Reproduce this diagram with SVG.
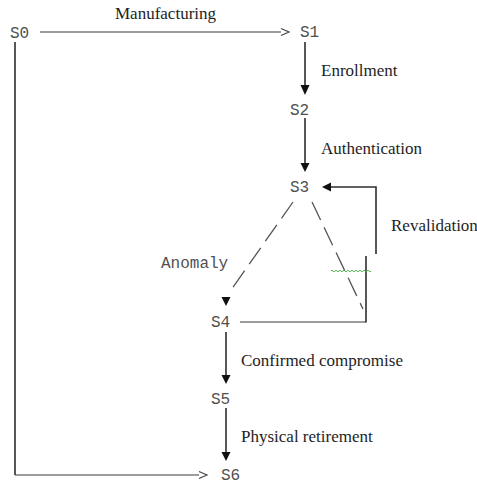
<svg xmlns="http://www.w3.org/2000/svg" width="477" height="484" viewBox="0 0 477 484">
  <style>
    .state { font-family: "Liberation Mono", "Courier New", monospace; font-size: 16px; fill: #505050; }
    .label { font-family: "Liberation Serif", "Times New Roman", serif; font-size: 17px; fill: #1e1e1e; }
    .wire { fill: none; stroke: #2e2e2e; stroke-width: 1.6; }
    .rule { fill: none; stroke: #3a3a3a; stroke-width: 1.1; }
    .dash { fill: none; stroke: #555; stroke-width: 1.3; stroke-dasharray: 20 8; }
    .head { fill: #111; }
    .chev { fill: none; stroke: #444; stroke-width: 1.2; }
  </style>

  <rect width="477" height="484" fill="#ffffff"/>

  <!-- states -->
  <g id="S0"><text class="state" x="10" y="38">S0</text></g>
  <g id="S1"><text class="state" x="300" y="37">S1</text></g>
  <g id="S2"><text class="state" x="290" y="115">S2</text></g>
  <g id="S3"><text class="state" x="290" y="192">S3</text></g>
  <g id="S4"><text class="state" x="211" y="327">S4</text></g>
  <g id="S5"><text class="state" x="211" y="404">S5</text></g>
  <g id="S6"><text class="state" x="221" y="480">S6</text></g>

  <!-- transitions -->
  <g id="connectors">
    <!-- S0 -> S1 : Manufacturing -->
    <line class="rule" x1="40" y1="32" x2="281" y2="32"/>
    <polyline class="chev" points="281,28.5 289,32 281,35.5"/>
    <text class="label" x="115" y="19">Manufacturing</text>

    <!-- S1 -> S2 : Enrollment -->
    <line class="wire" x1="305" y1="42" x2="305" y2="85"/>
    <polygon class="head" points="300.5,85 309.5,85 305,95"/>
    <text class="label" x="321" y="76">Enrollment</text>

    <!-- S2 -> S3 : Authentication -->
    <line class="wire" x1="305" y1="118" x2="305" y2="163"/>
    <polygon class="head" points="300.5,163 309.5,163 305,172"/>
    <text class="label" x="321" y="154">Authentication</text>

    <!-- S3 -> S4 : Anomaly -->
    <line class="dash" x1="293" y1="202" x2="231" y2="290"/>
    <polygon class="head" points="221.5,297 230.5,297 226,306"/>
    <text class="state" x="161" y="268">Anomaly</text>

    <!-- S3 branch towards the revalidation loop -->
    <line class="dash" x1="312" y1="202" x2="363" y2="309"/>

    <!-- S4 -> S3 : Revalidation -->
    <polyline class="rule" points="240,322 366,322"/>
    <line class="wire" x1="366" y1="322.5" x2="366" y2="256"/>
    <polyline class="wire" points="376,254 376,187 330,187"/>
    <polygon class="head" points="331,182.5 331,191.5 322,187"/>
    <text class="label" x="391" y="231">Revalidation</text>
    <path d="M331,271 q1,-1.6 2,0 t2,0 t2,0 t2,0 t2,0 t2,0 t2,0 t2,0 t2,0 t2,0 t2,0 t2,0 t2,0 t2,0 t2,0 t2,0 t2,0 t2,0 t2,0 t2,0" fill="none" stroke="#4aa84a" stroke-width="0.9"/>

    <!-- S4 -> S5 : Confirmed compromise -->
    <line class="wire" x1="226" y1="332" x2="226" y2="375"/>
    <polygon class="head" points="221.5,375 230.5,375 226,384"/>
    <text class="label" x="241" y="366">Confirmed compromise</text>

    <!-- S5 -> S6 : Physical retirement -->
    <line class="wire" x1="226" y1="408" x2="226" y2="452"/>
    <polygon class="head" points="221.5,452 230.5,452 226,461"/>
    <text class="label" x="241" y="442">Physical retirement</text>

    <!-- S0 -> S6 direct path -->
    <line class="wire" x1="15" y1="42" x2="15" y2="475"/>
    <line class="rule" x1="15" y1="475" x2="199" y2="475"/>
    <polyline class="chev" points="199,471.5 207,475 199,478.5"/>
  </g>
</svg>
